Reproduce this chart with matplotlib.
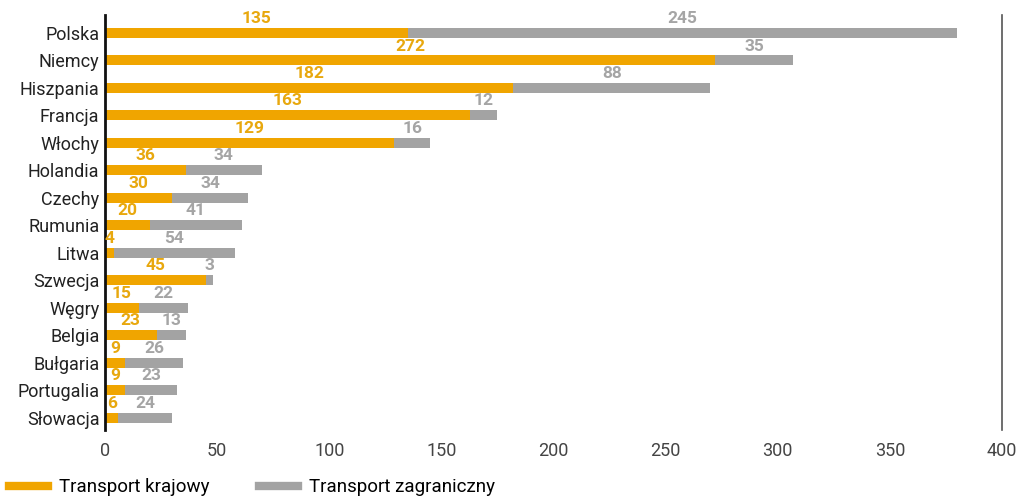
import numpy as np
import matplotlib.pyplot as plt
from matplotlib.lines import Line2D

plt.rcParams['font.family'] = ['Roboto', 'DejaVu Sans']

kraje = ['Polska', 'Niemcy', 'Hiszpania', 'Francja', 'Włochy', 'Holandia', 'Czechy',
         'Rumunia', 'Litwa', 'Szwecja', 'Węgry', 'Belgia', 'Bułgaria', 'Portugalia', 'Słowacja']
krajowy = [135, 272, 182, 163, 129, 36, 30, 20, 4, 45, 15, 23, 9, 9, 6]
zagraniczny = [245, 35, 88, 12, 16, 34, 34, 41, 54, 3, 22, 13, 26, 23, 24]

c_or = '#F0A500'
c_gr = '#A3A3A3'

fig = plt.figure(figsize=(10.24, 4.98), dpi=100)
ax = fig.add_axes([0.1025, 0.137, 0.876, 0.833])

y = np.arange(len(kraje))
h = 0.37
ax.barh(y, krajowy, height=h, color=c_or)
ax.barh(y, zagraniczny, left=krajowy, height=h, color=c_gr)

# etykiety nad odcinkami
for i in range(len(kraje)):
    ax.text(krajowy[i] / 2, y[i] - 0.52, str(krajowy[i]), ha='center', va='center',
            color='#E8A80E', fontsize=12.5, fontweight='bold')
    ax.text(krajowy[i] + zagraniczny[i] / 2, y[i] - 0.52, str(zagraniczny[i]), ha='center',
            va='center', color='#A5A5A5', fontsize=12.5, fontweight='bold')

ax.set_xlim(0, 400)
ax.set_ylim(len(kraje) - 0.56, -0.65)
ax.set_yticks(y)
ax.set_yticklabels(kraje, fontsize=13, color='#222222')
ax.set_xticks(range(0, 401, 50))
ax.tick_params(axis='both', length=0, pad=4)
ax.tick_params(axis='x', labelsize=13, labelcolor='#444444', pad=9)

ax.spines['top'].set_visible(False)
ax.spines['bottom'].set_visible(False)
ax.spines['left'].set_color('#111111')
ax.spines['left'].set_linewidth(2)
ax.spines['right'].set_color('#555555')
ax.spines['right'].set_linewidth(1.2)

handles = [Line2D([], [], color=c_or, lw=6), Line2D([], [], color=c_gr, lw=6)]
fig.legend(handles, ['Transport krajowy', 'Transport zagraniczny'], loc='lower left',
           bbox_to_anchor=(-0.008, -0.03), ncol=2, frameon=False, fontsize=13.5,
           handlelength=2.1, handletextpad=0.6, columnspacing=2.6)

fig.savefig('out.png', dpi=100)
